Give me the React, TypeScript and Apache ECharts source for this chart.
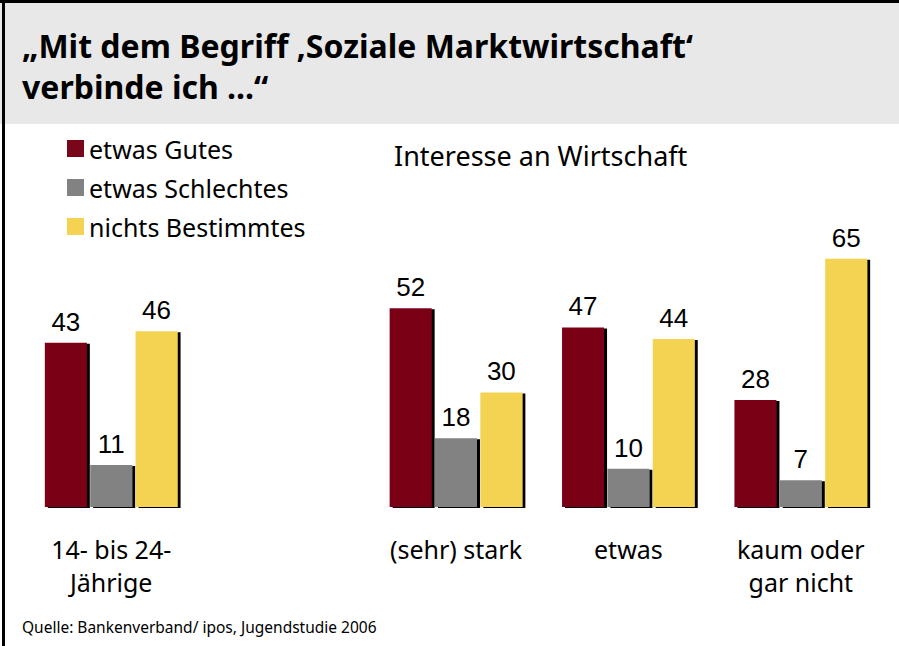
import React, { useEffect, useRef } from "react";
import * as echarts from "echarts";

const categories = ["14- bis 24-\nJährige", "", "(sehr) stark", "etwas", "kaum oder\ngar nicht"];
const seriesNames = ["etwas Gutes", "etwas Schlechtes", "nichts Bestimmtes"];
const gutes = [43, "-", 52, 47, 28];
const schlechtes = [11, "-", 18, 10, 7];
const nichts = [46, "-", 30, 44, 65];
const colors = ["#7a0619", "#828282", "#f3d351"];

const titleText = "„Mit dem Begriff ‚Soziale Marktwirtschaft‘\nverbinde ich ...“";
const subtitleText = "Interesse an Wirtschaft";
const sourceText = "Quelle: Bankenverband/ ipos, Jugendstudie 2006";

export default function App() {
  const ref = useRef<HTMLDivElement>(null);
  useEffect(() => {
    document.body.style.margin = "0";
    const chart = echarts.init(ref.current!, null, { renderer: "svg" });
    const values = [gutes, schlechtes, nichts];
    const font = "'Noto Sans', sans-serif";
    chart.setOption({
      animation: false,
      backgroundColor: "#ffffff",
      graphic: [
        { type: "rect", shape: { x: 0, y: 0, width: 899, height: 124 }, style: { fill: "#e8e8e8" }, z: -10 },
        { type: "rect", shape: { x: 0, y: 0, width: 899, height: 3 }, style: { fill: "#000" }, z: 10 },
        { type: "rect", shape: { x: 2, y: 0, width: 3, height: 646 }, style: { fill: "#000" }, z: 10 },
        {
          type: "text", left: 22, top: 25,
          style: { text: titleText, font: `bold 32px ${font}`, fill: "#000", lineHeight: 41 },
        },
        {
          type: "text", left: 394, top: 142,
          style: { text: subtitleText, font: `27px ${font}`, fill: "#000" },
        },
        {
          type: "text", left: 22, top: 619,
          style: { text: sourceText, font: `15.5px ${font}`, fill: "#000" },
        },
      ],
      legend: {
        orient: "vertical",
        left: 62,
        top: 130,
        itemWidth: 17,
        itemHeight: 17,
        itemGap: 12,
        icon: "rect",
        data: seriesNames,
        textStyle: { fontSize: 25, fontFamily: font, color: "#000", padding: [0, 0, 0, 0], lineHeight: 27 },
      },
      grid: { left: 25, right: 12, top: 125, bottom: 139, containLabel: false },
      xAxis: {
        type: "category",
        data: categories,
        axisLine: { show: false },
        axisTick: { show: false },
        axisLabel: { fontSize: 25, fontFamily: font, color: "#000", lineHeight: 33, margin: 25, interval: 0 },
      },
      yAxis: { type: "value", min: 0, max: 100, show: false },
      series: seriesNames.map((name, i) => ({
        name,
        type: "bar",
        data: values[i],
        barWidth: 42,
        barGap: "8%",
        itemStyle: {
          color: colors[i],
          shadowColor: "#000",
          shadowBlur: 0,
          shadowOffsetX: 3,
          shadowOffsetY: 1,
        },
        label: {
          show: true,
          position: "top",
          distance: 8,
          fontSize: 26,
          fontFamily: "'Liberation Sans', Arial, sans-serif",
          color: "#000",
        },
      })),
    });
    return () => chart.dispose();
  }, []);
  return <div ref={ref} style={{ width: 899, height: 646 }} />;
}
